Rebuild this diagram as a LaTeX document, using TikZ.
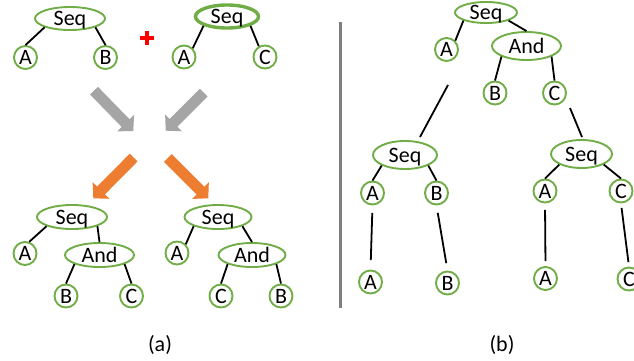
\documentclass[tikz,border=0pt]{standalone}
\usepackage{fontspec}
\setmainfont{Carlito}
\usetikzlibrary{shapes.geometric,arrows.meta}
\definecolor{lgreen}{HTML}{70AD47}
\definecolor{aorange}{HTML}{ED7D31}
\definecolor{agray}{HTML}{A5A5A5}
\definecolor{sepgray}{HTML}{7F7F7F}
\begin{document}
\begin{tikzpicture}[x=1pt,y=-1pt,
  font=\fontsize{22}{26}\selectfont,
  leaf/.style={circle,draw=lgreen,line width=1.9pt,minimum size=23pt,inner sep=0pt,text height=14pt,text depth=0pt},
  op/.style={ellipse,draw=lgreen,line width=1.9pt,inner sep=0pt,text height=14pt,text depth=0pt},
  link/.style={line width=1.8pt,black},
  bigarrow/.style={line width=11pt,-{Triangle[length=11pt,width=23pt]}}
]
\useasboundingbox (0,0) rectangle (634,361);
\clip (0,0) rectangle (634,361);

% ---- (a) top trees
\node[op,minimum width=70pt,minimum height=23pt] (s1) at (70,18.5) {Seq};
\node[leaf] (s1a) at (25.5,57.5) {A};
\node[leaf] (s1b) at (105.5,57.5) {B};
\draw[link] (s1.south west) -- (s1a.north);
\draw[link] (s1.south east) -- (s1b.north);

\draw[red,line width=4pt] (140,38) -- (154,38) (147,31) -- (147,45);

\node[op,line width=3.4pt,minimum width=63pt,minimum height=23pt] (s2) at (227,16.5) {Seq};
\node[leaf] (s2a) at (184,57) {A};
\node[leaf] (s2c) at (265,57) {C};
\draw[link] (s2.south west) -- (s2a.north east);
\draw[link] (s2.south east) -- (s2c.120);

% ---- arrows
\coordinate (g1s) at (94,90.7);   \coordinate (g1e) at (133.3,131);
\coordinate (g2s) at (203.7,92.7); \coordinate (g2e) at (165.7,130.7);
\coordinate (o1s) at (133.7,157.5); \coordinate (o1e) at (93.3,198.3);
\coordinate (o2s) at (167.8,158);  \coordinate (o2e) at (208.3,198.3);
\draw[bigarrow,agray] (g1s) -- (g1e);
\draw[bigarrow,agray] (g2s) -- (g2e);
\draw[bigarrow,aorange] (o1s) -- (o1e);
\draw[bigarrow,aorange] (o2s) -- (o2e);

% ---- (a) bottom trees
\node[op,minimum width=70pt,minimum height=24pt] (s3) at (72,217) {Seq};
\node[leaf] (s3a) at (25,253.5) {A};
\node[op,minimum width=69pt,minimum height=24pt] (n3) at (99.5,255) {And};
\node[leaf] (n3b) at (66,296) {B};
\node[leaf] (n3c) at (131.5,296) {C};
\draw[link] (s3.south west) -- (s3a.70);
\draw[link] (s3.south east) -- (n3.north);
\draw[link] (n3.south west) -- (n3b.north);
\draw[link] (n3.south east) -- (n3c.north);

\node[op,minimum width=67pt,minimum height=24pt] (s4) at (218,217) {Seq};
\node[leaf] (s4a) at (177,253) {A};
\node[op,minimum width=67pt,minimum height=24pt] (n4) at (252,255) {And};
\node[leaf] (n4c) at (221,296) {C};
\node[leaf] (n4b) at (281,296) {B};
\draw[link] (s4.south west) -- (s4a.north east);
\draw[link] (s4.south east) -- (n4.north);
\draw[link] (n4.south west) -- (n4c.north);
\draw[link] (n4.south east) -- (n4b.north);

\node (la) at (160,345) {(a)};

% ---- separator
\draw[sepgray,line width=3pt] (340,22) -- (340,308);

% ---- (b)
\node[op,minimum width=62pt,minimum height=21pt] (t) at (486,12.5) {Seq};
\node[leaf] (ta) at (446.5,49.5) {A};
\node[op,minimum width=69pt,minimum height=28pt] (tn) at (526.5,46) {And};
\node[leaf] (tb) at (495,93) {B};
\node[leaf] (tc) at (554.5,93) {C};
\draw[link] (t.south west) -- (ta.north east);
\draw[link] (t.south east) -- (tn.north);
\draw[link] (tn.south west) -- (tb.north);
\draw[link] (tn.south east) -- (tc.north);

\coordinate (gapa1) at (448,85); \coordinate (gapa2) at (420,137);
\coordinate (gapc1) at (570,108); \coordinate (gapc2) at (582,137);
\draw[link] (gapa1) -- (gapa2);
\draw[link] (gapc1) -- (gapc2);

\node[op,minimum width=64pt,minimum height=28pt] (ml) at (405,155) {Seq};
\node[leaf] (mla) at (372.5,193) {A};
\node[leaf] (mlb) at (436.5,193) {B};
\draw[link] (ml.south west) -- (mla.north);
\draw[link] (ml.south east) -- (mlb.north);

\node[op,minimum width=61pt,minimum height=28pt] (mr) at (581.5,154) {Seq};
\node[leaf] (mra) at (545,191) {A};
\node[leaf] (mrc) at (621,191) {C};
\draw[link] (mr.south west) -- (mra.north);
\draw[link] (mr.south east) -- (mrc.north);

\node[leaf] (ba) at (370.5,282) {A};
\node[leaf] (bb) at (447.5,283) {B};
\node[leaf] (bra) at (545.5,278.5) {A};
\node[leaf] (brc) at (629,279) {C};
\draw[link,shorten <=7.5pt,shorten >=9.5pt] (mla.south) -- (ba.north);
\draw[link,shorten <=7.5pt,shorten >=7.5pt] (mlb.south) -- (bb.north);
\draw[link,shorten <=6.5pt,shorten >=5pt] (mra.south) -- (bra.north);
\draw[link,shorten <=4.5pt,shorten >=4.5pt] (mrc.south) -- (brc.north);

\node (lb) at (502,345) {(b)};
\end{tikzpicture}
\end{document}
